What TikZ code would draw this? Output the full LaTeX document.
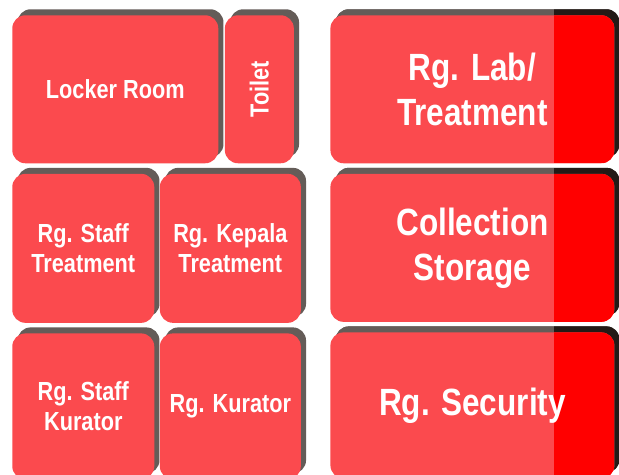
\documentclass[tikz,border=0pt]{standalone}
\usepackage{fontspec}
\newfontfamily\roomfont{Liberation Sans}[FakeStretch=0.83]
\usetikzlibrary{positioning}
\usetikzlibrary{shadows}
\definecolor{roomred}{RGB}{251,74,78}
\definecolor{shadowgray}{RGB}{100,92,88}
\definecolor{stripred}{RGB}{255,0,0}
\definecolor{stripshadow}{RGB}{35,26,22}

\begin{document}
\begin{tikzpicture}[room/.style={rectangle, rounded corners=0.33cm, fill=roomred, text=white, align=center, inner sep=0pt,
                font=\roomfont\bfseries\fontsize{18.6}{21.3}\selectfont,
                general shadow={fill=shadowgray, shadow xshift=0.13cm, shadow yshift=0.15cm}},
            bigroom/.style={room, minimum width=7.1cm, font=\roomfont\bfseries\fontsize{27}{32}\selectfont,
                general shadow={fill=shadowgray, shadow xshift=0.13cm, shadow yshift=0.15cm,
                    path picture={\fill[stripshadow, sharp corners] ([xshift=-1.63cm]path picture bounding box.north east) rectangle (path picture bounding box.south east);}},
                path picture={\fill[stripred, sharp corners] ([xshift=-1.5cm]path picture bounding box.north east) rectangle (path picture bounding box.south east);}}]
            \useasboundingbox[fill=white] (0,0) rectangle (15.475,-11.875);

            \node[room, minimum width=5.15cm, minimum height=3.7cm, anchor=north west] (locker) at (0.3,-0.375) {Locker Room};
            \node[room, minimum width=1.725cm, minimum height=3.7cm, right=0.15cm of locker] (toilet) {\rotatebox{90}{Toilet}};
            \node[bigroom, minimum height=3.7cm, right=0.9cm of toilet] (lab) {Rg. Lab/\\Treatment};

            \node[room, minimum width=3.55cm, minimum height=3.725cm, below=0.25cm of locker.south west, anchor=north west] (stafftreat) {Rg. Staff\\Treatment};
            \node[room, minimum width=3.525cm, minimum height=3.725cm, right=0.125cm of stafftreat] (kepala) {Rg. Kepala\\Treatment};
            \node[bigroom, minimum height=3.7cm, below=0.25cm of lab] (storage) {Collection\\Storage};

            \node[room, minimum width=3.55cm, minimum height=3.65cm, below=0.25cm of stafftreat] (staffkurator) {Rg. Staff\\Kurator};
            \node[room, minimum width=3.525cm, minimum height=3.65cm, right=0.125cm of staffkurator] (kurator) {Rg. Kurator};
            \node[bigroom, minimum height=3.65cm, below=0.25cm of storage] (security) {Rg. Security};
        \end{tikzpicture}
\end{document}
